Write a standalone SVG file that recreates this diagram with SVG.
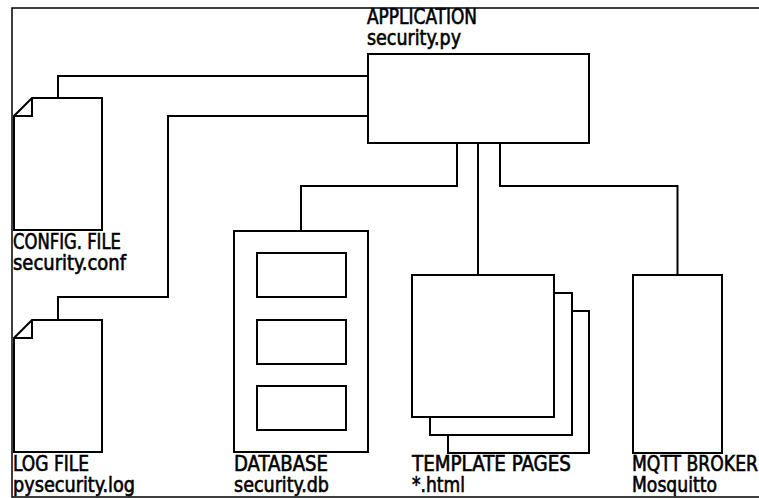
<svg xmlns="http://www.w3.org/2000/svg" width="759" height="498" viewBox="0 0 759 498">
<style>
.bg{fill:#ffffff}
.frame{fill:none;stroke:#000;stroke-width:1.5}
.sh{fill:#fff;stroke:#000;stroke-width:2;stroke-linejoin:miter}
.ln{fill:none;stroke:#000;stroke-width:2}
text{font-family:"DejaVu Sans Condensed","DejaVu Sans",sans-serif;font-stretch:condensed;font-size:21px;fill:#000;stroke:#000;stroke-width:0.6}
</style>
<rect class="bg" x="0" y="0" width="759" height="498"/>
<path class="frame" d="M770,8 H12 V497 H770"/>
<g id="connectors">
<path class="ln" d="M368,76 H58 V98"/>
<path class="ln" d="M368,116 H168 V297 H58 V320"/>
<path class="ln" d="M457,143 V186 H301 V231"/>
<path class="ln" d="M478,143 V275"/>
<path class="ln" d="M500,143 V186 H677.5 V275"/>
</g>
<g id="application">
<rect class="sh" x="368" y="54" width="221" height="89"/>
<text x="367" y="24" textLength="110" lengthAdjust="spacingAndGlyphs">APPLICATION</text>
<text x="367" y="45" textLength="94" lengthAdjust="spacingAndGlyphs">security.py</text>
</g>
<g id="config-file">
<path class="sh" d="M32,98 H102 V230 H14 V116 Z"/>
<path class="ln" d="M32,98 V116 H14"/>
<text x="13" y="249" textLength="108" lengthAdjust="spacingAndGlyphs">CONFIG. FILE</text>
<text x="13" y="270" textLength="113" lengthAdjust="spacingAndGlyphs">security.conf</text>
</g>
<g id="log-file">
<path class="sh" d="M32,320 H102 V452 H14 V338 Z"/>
<path class="ln" d="M32,320 V338 H14"/>
<text x="13" y="471" textLength="76" lengthAdjust="spacingAndGlyphs">LOG FILE</text>
<text x="13" y="492" textLength="122" lengthAdjust="spacingAndGlyphs">pysecurity.log</text>
</g>
<g id="database">
<rect class="sh" x="234" y="231" width="134" height="221"/>
<rect class="sh" x="257" y="253" width="89" height="44"/>
<rect class="sh" x="257" y="320" width="89" height="44"/>
<rect class="sh" x="257" y="386" width="89" height="44"/>
<text x="234" y="471" textLength="94" lengthAdjust="spacingAndGlyphs">DATABASE</text>
<text x="234" y="492" textLength="95" lengthAdjust="spacingAndGlyphs">security.db</text>
</g>
<g id="template-pages">
<rect class="sh" x="448" y="311" width="141" height="142"/>
<rect class="sh" x="430" y="293" width="142" height="142"/>
<rect class="sh" x="412" y="275" width="142" height="142"/>
<text x="412" y="471" textLength="159" lengthAdjust="spacingAndGlyphs">TEMPLATE PAGES</text>
<text x="412" y="492" textLength="53" lengthAdjust="spacingAndGlyphs">*.html</text>
</g>
<g id="mqtt-broker">
<rect class="sh" x="633" y="275" width="89" height="178"/>
<text x="632" y="471" textLength="126" lengthAdjust="spacingAndGlyphs">MQTT BROKER</text>
<text x="632" y="492" textLength="85" lengthAdjust="spacingAndGlyphs">Mosquitto</text>
</g>
</svg>
